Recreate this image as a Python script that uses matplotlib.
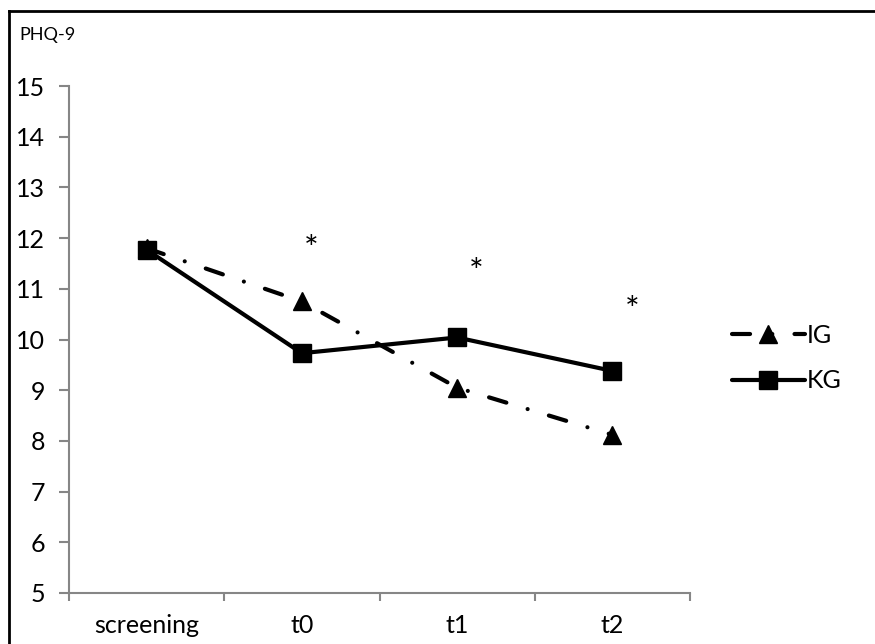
import matplotlib
matplotlib.use("Agg")
import matplotlib.pyplot as plt
from matplotlib.lines import Line2D

categories = ["screening", "t0", "t1", "t2"]
ig_values = [11.80, 10.75, 9.05, 8.12]
kg_values = [11.77, 9.73, 10.04, 9.38]
star_labels = ["*", "*", "*"]
star_x = [1.06, 2.12, 3.13]
star_y = [11.76, 11.31, 10.56]
y_ticks = [5, 6, 7, 8, 9, 10, 11, 12, 13, 14, 15]

plt.rcParams['font.family'] = ['Lato', 'DejaVu Sans']
plt.rcParams['lines.scale_dashes'] = False

W, H = 875, 644
fig = plt.figure(figsize=(W / 100, H / 100), dpi=100)
ax = fig.add_axes([69 / W, (H - 593) / H, (690 - 69) / W, (593 - 86) / H])

x = list(range(len(categories)))
gray = "#868686"

ax.plot(x, ig_values, color="black", lw=3, dashes=(13, 16, 0.01, 16),
        dash_capstyle="round", marker="^", markersize=13, label="IG")
ax.plot(x, kg_values, color="black", lw=3, solid_capstyle="round",
        marker="s", markersize=13, label="KG")

for sx, sy, s in zip(star_x, star_y, star_labels):
    ax.text(sx, sy, s, fontsize=25, ha="center", va="center")

ax.set_xlim(-0.5, len(categories) - 0.5)
ax.set_ylim(5, 15)
ax.set_yticks(y_ticks)
ax.set_xticks(x)
ax.set_xticklabels(categories)
ax.set_xticks([i - 0.5 for i in range(len(categories) + 1)], minor=True)
ax.tick_params(axis="x", which="major", length=0, labelsize=18, pad=15)
ax.tick_params(axis="x", which="minor", length=6, width=1.5, color=gray, direction="out")
ax.tick_params(axis="y", length=7, width=1.5, color=gray, labelsize=18, pad=10)

for side in ["top", "right"]:
    ax.spines[side].set_visible(False)
for side in ["left", "bottom"]:
    ax.spines[side].set_color(gray)
    ax.spines[side].set_linewidth(1.5)

fig.text(19 / W, 1 - 35 / H, "PHQ-9", fontsize=13, ha="left", va="center")

leg = fig.legend(loc="center left", bbox_to_anchor=(722 / W, 1 - 358 / H),
                 frameon=False, fontsize=18, handlelength=2.9, labelspacing=0.9,
                 handletextpad=0.1, borderaxespad=0)

fig.add_artist(Line2D([9 / W, 1], [1 - 11 / H, 1 - 11 / H], color="black", lw=2,
                      transform=fig.transFigure))
fig.add_artist(Line2D([9 / W, 9 / W], [0, 1 - 11 / H], color="black", lw=2,
                      transform=fig.transFigure))

fig.savefig("out.png", dpi=100)
